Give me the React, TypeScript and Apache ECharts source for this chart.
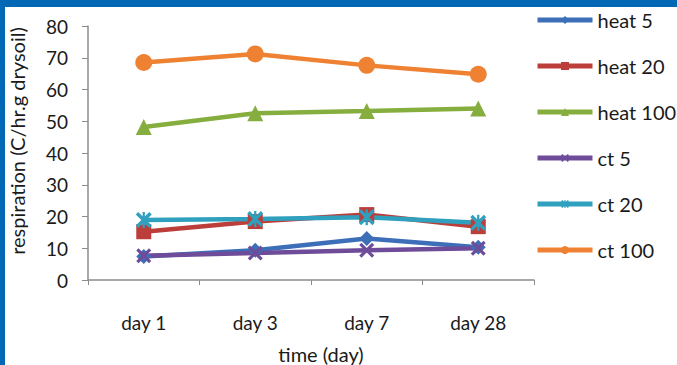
import React, { useEffect, useRef } from "react";
import * as echarts from "echarts";

const days = ["day 1", "day 3", "day 7", "day 28"];
const yTicks = [0, 10, 20, 30, 40, 50, 60, 70, 80];

const heat5 = [7.4, 9.4, 13.1, 10.3];
const heat20 = [15.2, 18.4, 20.6, 16.8];
const heat100 = [48.2, 52.5, 53.2, 54.0];
const ct5 = [7.6, 8.5, 9.4, 10.0];
const ct20 = [18.9, 19.2, 19.8, 18.0];
const ct100 = [68.5, 71.2, 67.6, 64.8];

const seriesNames = ["heat 5", "heat 20", "heat 100", "ct 5", "ct 20", "ct 100"];
const seriesData = [heat5, heat20, heat100, ct5, ct20, ct100];
const seriesColors = ["#3D6EB8", "#BC3E3A", "#86AE3E", "#6E4C9A", "#2FA0BD", "#EF8232"];

const yTitle = "respiration (C/hr.g drysoil)";
const xTitle = "time (day)";

const crossPath =
  "path://M0,1.5 L1.5,0 L5,3.5 L8.5,0 L10,1.5 L6.5,5 L10,8.5 L8.5,10 L5,6.5 L1.5,10 L0,8.5 L3.5,5 Z";
const starPath =
  "path://M0,1.5 L1.5,0 L5,3.5 L8.5,0 L10,1.5 L6.5,5 L10,8.5 L8.5,10 L5,6.5 L1.5,10 L0,8.5 L3.5,5 Z M4.3,0 L5.7,0 L5.7,10 L4.3,10 Z";
const symbols = ["diamond", "rect", "triangle", crossPath, starPath, "circle"];
const symbolSizes = [15, 15, 16, 15, 16, 17];

const FONT = "Lato, 'Open Sans', sans-serif";
const TEXT = "#1a1a1a";
const FRAME = "#0068B4";

export default function App() {
  const ref = useRef<HTMLDivElement>(null);

  useEffect(() => {
    if (!ref.current) return;
    const chart = echarts.init(ref.current, undefined, { renderer: "svg" });
    chart.setOption({
      animation: false,
      backgroundColor: "#ffffff",
      legend: {
        orient: "vertical",
        left: 535,
        top: 10,
        padding: 0,
        itemWidth: 55,
        itemHeight: 10,
        itemGap: 26,
        lineStyle: { width: 5 },
        textStyle: { fontFamily: FONT, fontSize: 20, color: TEXT },
        data: seriesNames,
      },
      grid: { left: 88, right: 143, top: 26, bottom: 85 },
      graphic: [
        {
          type: "text",
          x: 17,
          y: 141,
          rotation: Math.PI / 2,
          style: {
            text: yTitle,
            fontFamily: FONT,
            fontSize: 20,
            fill: TEXT,
            align: "center",
            verticalAlign: "middle",
          },
        },
        {
          type: "text",
          x: 321,
          y: 354,
          style: {
            text: xTitle,
            fontFamily: FONT,
            fontSize: 20,
            fill: TEXT,
            align: "center",
            verticalAlign: "middle",
          },
        },
      ],
      xAxis: {
        type: "category",
        data: days,
        boundaryGap: true,
        axisLine: { lineStyle: { color: "#8c8c8c", width: 1.5 } },
        axisTick: { show: true, length: 5, lineStyle: { color: "#8c8c8c" } },
        axisLabel: { margin: 33, fontFamily: FONT, fontSize: 19, color: TEXT },
        splitLine: { show: false },
      },
      yAxis: {
        type: "value",
        min: yTicks[0],
        max: yTicks[yTicks.length - 1],
        interval: 10,
        axisLine: { show: true, lineStyle: { color: "#8c8c8c", width: 1.5 } },
        axisTick: { show: true, length: 6, lineStyle: { color: "#8c8c8c" } },
        axisLabel: { margin: 20, fontFamily: FONT, fontSize: 19, color: TEXT },
        splitLine: { show: false },
      },
      series: seriesNames.map((name, i) => ({
        name,
        type: "line",
        data: seriesData[i],
        symbol: symbols[i],
        symbolSize: symbolSizes[i],
        showAllSymbol: true,
        lineStyle: { width: 4.5, color: seriesColors[i] },
        itemStyle: { color: seriesColors[i] },
        emphasis: { disabled: true },
      })),
    });
    return () => chart.dispose();
  }, []);

  return (
    <div style={{ position: "fixed", left: 0, top: 0, width: 677, height: 365, background: "#ffffff" }}>
      <div ref={ref} style={{ position: "absolute", left: 0, top: 0, width: 677, height: 365 }} />
      <div style={{ position: "absolute", left: 0, top: 0, width: 677, height: 7, background: FRAME }} />
      <div style={{ position: "absolute", left: 0, top: 0, width: 5, height: 365, background: FRAME }} />
    </div>
  );
}
